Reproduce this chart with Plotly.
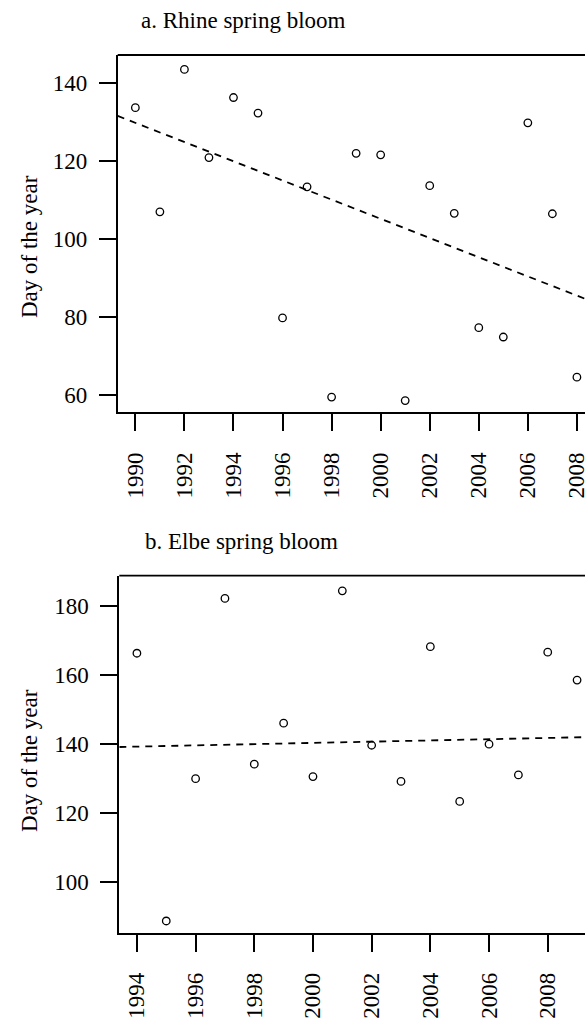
import plotly.graph_objects as go

# ---- data ----
rhine_years = list(range(1990, 2009))
rhine_day = [133.6, 106.9, 143.4, 120.8, 136.2, 132.2, 79.7, 113.3, 59.4, 121.9,
             121.5, 58.5, 113.6, 106.5, 77.2, 74.8, 129.7, 106.4, 64.5]
rhine_trend_at_first = 129.7   # trend value in 1990
rhine_trend_slope = -2.46      # days per year

elbe_years = list(range(1994, 2010))
elbe_day = [166.4, 88.7, 130.0, 182.3, 134.2, 146.1, 130.6, 184.5, 139.7, 129.2,
            168.3, 123.4, 140.0, 131.1, 166.7, 158.6]
elbe_trend_at_first = 139.3    # trend value in 1994
elbe_trend_slope = 0.18

rhine_yticks = [60, 80, 100, 120, 140]
rhine_xticks = list(range(1990, 2009, 2))
elbe_yticks = [100, 120, 140, 160, 180]
elbe_xticks = list(range(1994, 2009, 2))

titles = ["a. Rhine spring bloom", "b. Elbe spring bloom"]
ylabel = "Day of the year"

# ---- layout geometry ----
W, H = 585, 1023
FONT = "Liberation Serif, Times New Roman, serif"
FS = 23

a_xrange = [1989.28, 2008.33]
a_yrange = [55.5, 147.1]
b_xrange = [1993.40, 2009.27]
b_yrange = [85.3, 188.9]

def px_x(p):
    return p / W

def px_y(p):
    return 1 - p / H

fig = go.Figure()

def trend_pts(xr, years, first, slope):
    xs = [xr[0], xr[1]]
    ys = [first + slope * (x - years[0]) for x in xs]
    return xs, ys

marker = dict(symbol="circle-open", size=7.5, color="black", line=dict(width=1.3, color="black"))
dash = "7px,6px"

# panel a
fig.add_trace(go.Scatter(x=rhine_years, y=rhine_day, mode="markers", marker=marker,
                         xaxis="x", yaxis="y", showlegend=False, cliponaxis=False))
tx, ty = trend_pts(a_xrange, rhine_years, rhine_trend_at_first, rhine_trend_slope)
fig.add_trace(go.Scatter(x=tx, y=ty, mode="lines", line=dict(color="black", width=1.8, dash=dash),
                         xaxis="x", yaxis="y", showlegend=False))
# panel b
fig.add_trace(go.Scatter(x=elbe_years, y=elbe_day, mode="markers", marker=marker,
                         xaxis="x2", yaxis="y2", showlegend=False, cliponaxis=False))
tx, ty = trend_pts(b_xrange, elbe_years, elbe_trend_at_first, elbe_trend_slope)
fig.add_trace(go.Scatter(x=tx, y=ty, mode="lines", line=dict(color="black", width=1.8, dash=dash),
                         xaxis="x2", yaxis="y2", showlegend=False))

axis_common = dict(showgrid=False, zeroline=False, showline=True, linecolor="black", linewidth=1.8,
                   ticks="outside", ticklen=17, tickwidth=1.8, tickcolor="black",
                   tickfont=dict(family=FONT, size=FS, color="black"), automargin=False,
                   ticklabeloverflow="allow")

fig.update_layout(
    width=W, height=H,
    margin=dict(l=0, r=0, t=0, b=0),
    paper_bgcolor="white", plot_bgcolor="white",
    xaxis=dict(domain=[px_x(117.7), 1], range=a_xrange, anchor="y",
               tickvals=rhine_xticks, ticktext=[str(v) for v in rhine_xticks],
               tickangle=-90, ticklabelstandoff=12, **axis_common),
    yaxis=dict(domain=[px_y(412.3), px_y(55)], range=a_yrange, anchor="x",
               tickvals=rhine_yticks, ticktext=[str(v) for v in rhine_yticks],
               ticklabelstandoff=7, **axis_common),
    xaxis2=dict(domain=[px_x(119.3), 1], range=b_xrange, anchor="y2",
                tickvals=elbe_xticks, ticktext=[str(v) for v in elbe_xticks],
                tickangle=-90, ticklabelstandoff=12, **axis_common),
    yaxis2=dict(domain=[px_y(932.7), px_y(575.7)], range=b_yrange, anchor="x2",
                tickvals=elbe_yticks, ticktext=[str(v) for v in elbe_yticks],
                ticklabelstandoff=7, **axis_common),
)

# top border lines of each box
for xr, yr in [("x domain", "y domain"), ("x2 domain", "y2 domain")]:
    fig.add_shape(type="line", xref=xr, yref=yr, x0=0, x1=1, y0=1, y1=1,
                  line=dict(color="black", width=1.8))

annotations = [
    dict(text=titles[0], x=px_x(139), y=px_y(21), xanchor="left", yanchor="middle"),
    dict(text=titles[1], x=px_x(143), y=px_y(541), xanchor="left", yanchor="middle"),
    dict(text=ylabel, x=px_x(29), y=px_y(247), textangle=-90, xanchor="center", yanchor="middle"),
    dict(text=ylabel, x=px_x(29), y=px_y(761), textangle=-90, xanchor="center", yanchor="middle"),
]
for a in annotations:
    fig.add_annotation(xref="paper", yref="paper", showarrow=False,
                       font=dict(family=FONT, size=FS, color="black"), **a)

fig.write_html("out.html", config={"displayModeBar": False},
               post_script="document.body.style.margin='0px';document.body.style.overflow='hidden';")
